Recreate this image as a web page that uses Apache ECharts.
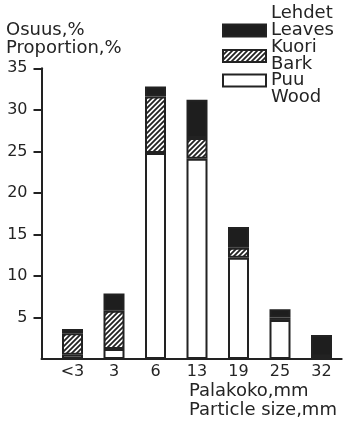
<!DOCTYPE html>
<html>
<head>
<meta charset="utf-8">
<script src="https://cdn.jsdelivr.net/npm/echarts@6/dist/echarts.min.js"></script>
<style>
html,body{margin:0;padding:0;background:#fff;}
#c{width:345px;height:427px;}
</style>
</head>
<body>
<div id="c"></div>
<script>
// Data
var categories = ['<3', '3', '6', '13', '19', '25', '32'];
var wood   = [0.5, 1.2, 24.8, 24.1, 12.2, 4.7, 0.3];
var bark   = [2.6, 4.6, 6.8, 2.5, 1.2, 0.3, 0.0];
var leaves = [0.5, 2.1, 1.2, 4.6, 2.5, 1.0, 2.6];
var yTicks = [5, 10, 15, 20, 25, 30, 35];
var seriesNames = ['Leaves', 'Bark', 'Wood'];
var finnishNames = ['Lehdet', 'Kuori', 'Puu'];
var yTitle = 'Osuus,%\nProportion,%';
var xTitle = 'Palakoko,mm\nParticle size,mm';

var INK = '#222';
var TXT = '#242424';
var FONT = 'DejaVu Sans';

// hatch pattern
var pc = document.createElement('canvas');
var S = 5;
pc.width = S; pc.height = S;
var ctx = pc.getContext('2d');
ctx.fillStyle = '#fff';
ctx.fillRect(0, 0, S, S);
ctx.strokeStyle = INK;
ctx.lineWidth = 1.8;
ctx.beginPath();
ctx.moveTo(-1, S + 1); ctx.lineTo(S + 1, -1);
ctx.moveTo(-1, 1); ctx.lineTo(1, -1);
ctx.moveTo(S - 1, S + 1); ctx.lineTo(S + 1, S - 1);
ctx.stroke();
var hatch = { image: pc, repeat: 'repeat' };

var chart = echarts.init(document.getElementById('c'), null, { renderer: 'canvas' });

var legendText = [
  finnishNames[0] + '\n' + seriesNames[0] + '\n ',
  finnishNames[1] + '\n' + seriesNames[1],
  ' \n' + finnishNames[2] + '\n' + seriesNames[2]
];

function legendFor(idx, top) {
  return {
    show: true,
    orient: 'vertical',
    left: 222,
    top: top,
    padding: 0,
    icon: 'rect',
    itemWidth: 43,
    itemHeight: 12,
    selectedMode: false,
    data: [seriesNames[idx]],
    formatter: function () { return legendText[idx]; },
    textStyle: { fontFamily: FONT, fontSize: 18, lineHeight: 17, color: TXT }
  };
}

var barCommon = {
  type: 'bar',
  stack: 'total',
  barWidth: 21,
  xAxisIndex: 0,
  yAxisIndex: 0
};

chart.setOption({
  animation: false,
  backgroundColor: '#fff',
  title: [
    { text: yTitle, left: 6, top: 21, padding: 0,
      textStyle: { fontFamily: FONT, fontSize: 18, lineHeight: 18, fontWeight: 'normal', color: TXT } },
    { text: xTitle, left: 189, top: 382, padding: 0,
      textStyle: { fontFamily: FONT, fontSize: 18, lineHeight: 19, fontWeight: 'normal', color: TXT } }
  ],
  legend: [
    legendFor(0, 4.5),
    legendFor(1, 38.5),
    legendFor(2, 54.5)
  ],
  grid: [
    { left: 51.75, right: 2.75, top: 68.3, bottom: 68, containLabel: false, outerBoundsMode: 'none' },
    { left: 41.5, right: 3.3, top: 68.3, bottom: 68, containLabel: false, outerBoundsMode: 'none' }
  ],
  xAxis: [
    {
      gridIndex: 0,
      type: 'category',
      data: categories,
      boundaryGap: true,
      axisLine: { show: false },
      axisTick: { show: false },
      axisLabel: { fontFamily: FONT, fontSize: 16, color: TXT, margin: 5, interval: 0 }
    },
    {
      gridIndex: 1,
      type: 'value',
      min: 0, max: 1,
      splitLine: { show: false },
      axisLine: { show: true, onZero: false, lineStyle: { color: INK, width: 2 } },
      axisTick: { show: false },
      axisLabel: { show: false }
    }
  ],
  yAxis: [
    {
      gridIndex: 0,
      type: 'value',
      min: 0, max: 35, interval: 5,
      show: false,
      splitLine: { show: false }
    },
    {
      gridIndex: 1,
      type: 'value',
      min: 0, max: 35, interval: 5,
      splitLine: { show: false },
      axisLine: { show: true, lineStyle: { color: INK, width: 2 } },
      axisTick: { show: true, customValues: yTicks, length: 8, lineStyle: { color: INK, width: 2 } },
      axisLabel: { customValues: yTicks, fontFamily: FONT, fontSize: 16, color: TXT, margin: 14 }
    }
  ],
  series: [
    Object.assign({}, barCommon, { name: 'Wood', data: wood, itemStyle: { color: '#fff', borderColor: INK, borderWidth: 2 } }),
    Object.assign({}, barCommon, { name: 'Bark', data: bark, itemStyle: { color: hatch, borderColor: INK, borderWidth: 2 } }),
    Object.assign({}, barCommon, { name: 'Leaves', data: leaves, itemStyle: { color: '#1e1e1e', borderColor: INK, borderWidth: 2 } })
  ]
});
</script>
</body>
</html>
